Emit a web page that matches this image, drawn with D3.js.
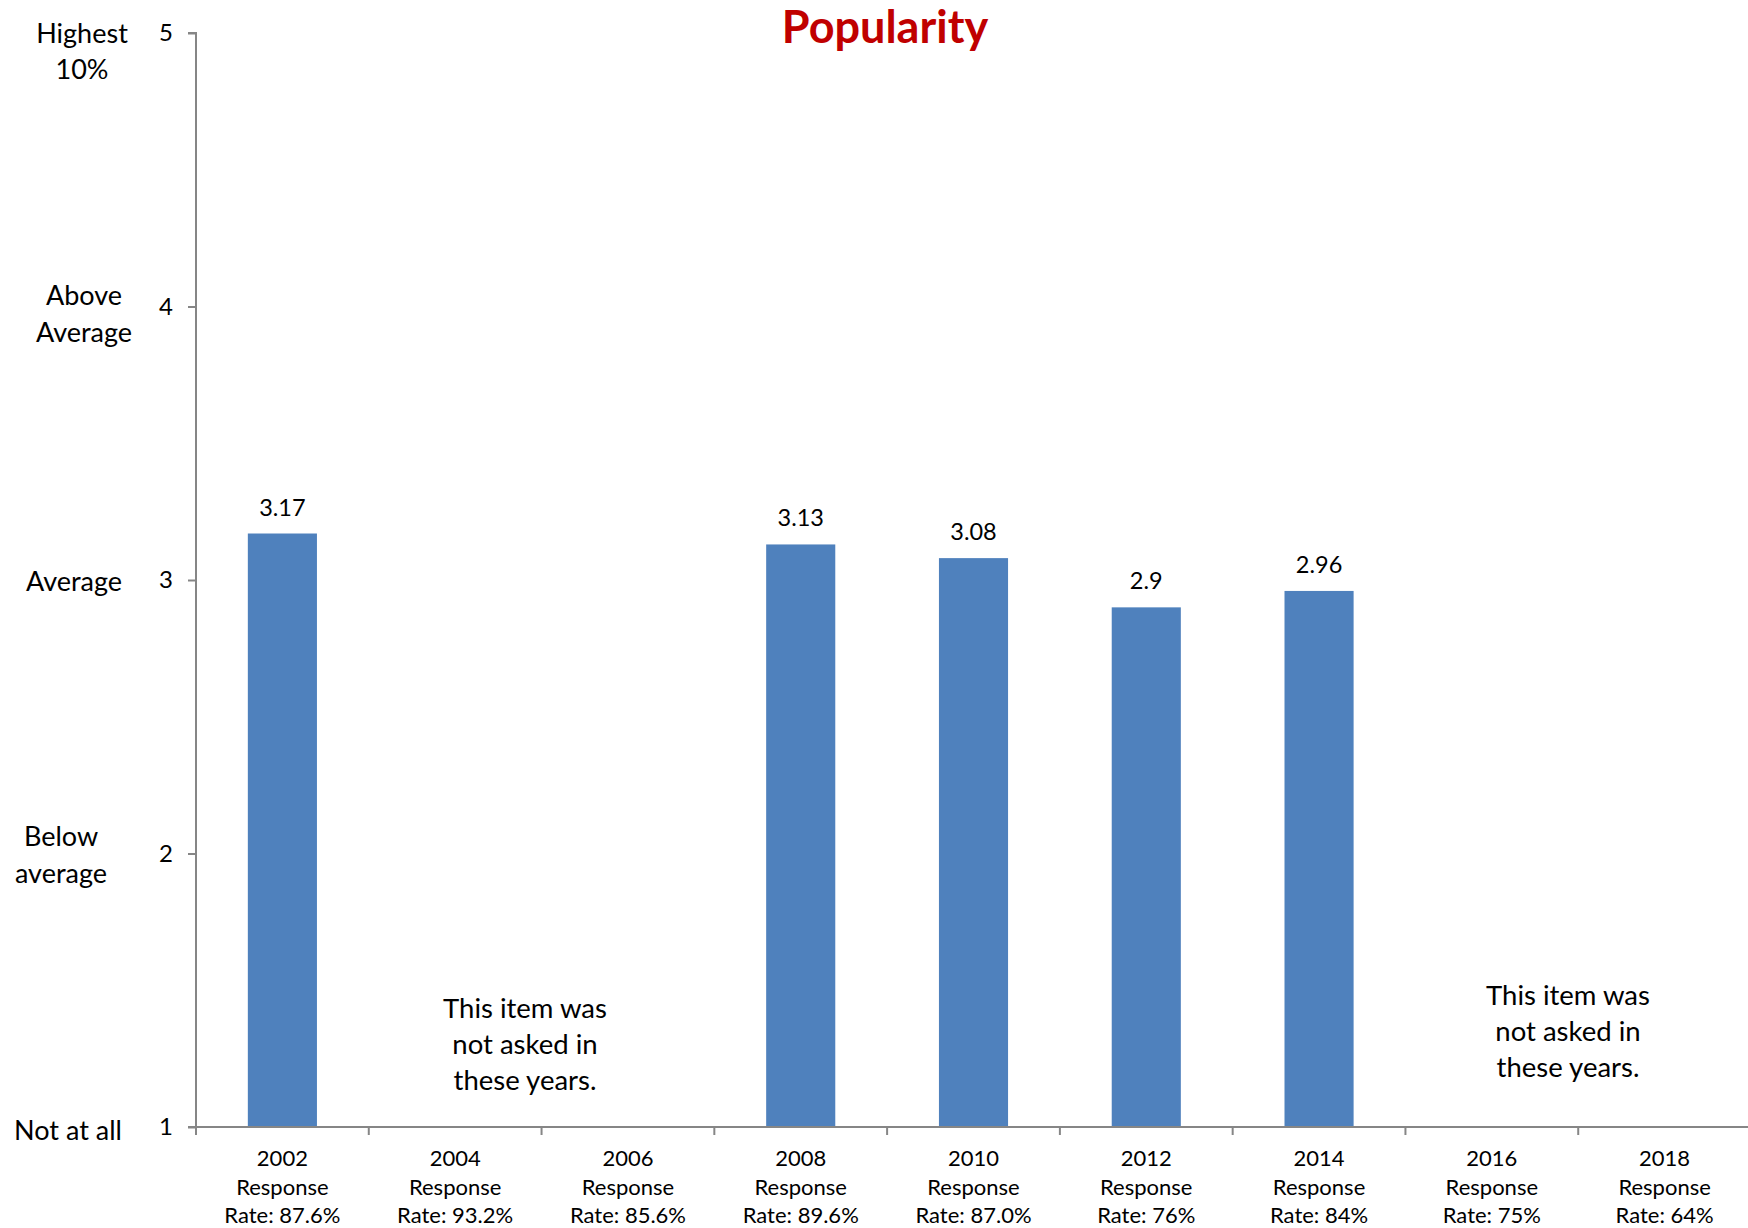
<!DOCTYPE html>
<html><head><meta charset="utf-8">
<script src="https://cdn.jsdelivr.net/npm/d3@7"></script>
<style>
html,body{margin:0;padding:0;background:#fff;}
svg{display:block;font-family:Lato,"Open Sans",sans-serif;}
</style></head>
<body>
<svg id="chart" width="1748" height="1228"></svg>
<script>
// ---- data ----
const years = ["2002","2004","2006","2008","2010","2012","2014","2016","2018"];
const responseRates = ["87.6%","93.2%","85.6%","89.6%","87.0%","76%","84%","75%","64%"];
const values = [3.17, null, null, 3.13, 3.08, 2.9, 2.96, null, null];
const valueLabels = ["3.17", "", "", "3.13", "3.08", "2.9", "2.96", "", ""];
const yTicks = [1, 2, 3, 4, 5];
const scaleLabels = [
  ["Not at all"],
  ["Below", "average"],
  ["Average"],
  ["Above", "Average"],
  ["Highest", "10%"]
];
const noteLines = ["This item was", "not asked in", "these years."];
const title = "Popularity";

(function () {
// ---- layout ----
const svg = d3.select("#chart");
const mLeft = 196, mRight = 1751, mTop = 33, mBottom = 1127;
const x = d3.scaleBand().domain(years).range([mLeft, mRight]).paddingInner(0).paddingOuter(0);
const y = d3.scaleLinear().domain([1, 5]).range([mBottom, mTop]);
const barW = x.bandwidth() * 0.4;
const axisColor = "#868686";
const barColor = "#4F81BD";

// title
svg.append("text").attr("x", 885).attr("y", 43).attr("text-anchor", "middle")
  .attr("font-size", 45).attr("font-weight", "bold").attr("fill", "#C00000").text(title);

// bars
const data = years.map((yr, i) => ({yr, v: values[i], label: valueLabels[i]})).filter(d => d.v != null);
svg.append("g").selectAll("rect").data(data).join("rect")
  .attr("x", d => x(d.yr) + (x.bandwidth() - barW) / 2)
  .attr("y", d => y(d.v))
  .attr("width", barW)
  .attr("height", d => y(1) - y(d.v))
  .attr("fill", barColor);

svg.append("g").selectAll("text").data(data).join("text")
  .attr("x", d => x(d.yr) + x.bandwidth() / 2)
  .attr("y", d => y(d.v) - 18)
  .attr("text-anchor", "middle").attr("font-size", 23.5).attr("fill", "#000")
  .text(d => d.label);

// y axis
const yAxis = svg.append("g").attr("transform", `translate(${mLeft},0)`)
  .call(d3.axisLeft(y).tickValues(yTicks).tickFormat(d3.format("d")).tickSize(8).tickPadding(15));
yAxis.select(".domain").attr("stroke", axisColor).attr("stroke-width", 2).attr("d", `M-8,${mTop}H0V${mBottom}`);
yAxis.selectAll(".tick line").attr("stroke", axisColor).attr("stroke-width", 2);
yAxis.selectAll(".tick text").attr("font-size", 24).attr("fill", "#000").attr("font-family", "Lato");

// x axis
const xAxisG = svg.append("g");
xAxisG.append("line").attr("x1", mLeft - 8).attr("x2", mRight).attr("y1", mBottom).attr("y2", mBottom)
  .attr("stroke", axisColor).attr("stroke-width", 2);
const boundaries = years.map(d => x(d));
xAxisG.selectAll("line.tk").data(boundaries).join("line").attr("class", "tk")
  .attr("x1", d => d).attr("x2", d => d).attr("y1", mBottom).attr("y2", mBottom + 8)
  .attr("stroke", axisColor).attr("stroke-width", 2);
const xl = xAxisG.selectAll("text").data(years).join("text")
  .attr("text-anchor", "middle").attr("font-size", 22).attr("fill", "#000");
xl.each(function(d, i) {
  const t = d3.select(this);
  const cx = x(d) + x.bandwidth() / 2;
  [d, "Response", "Rate: " + responseRates[i]].forEach((s, k) => {
    t.append("tspan").attr("x", cx).attr("y", 1166 + k * 28.5).text(s);
  });
});

// scale category labels (left)
const labelLayout = [
  {cx: 68, dy: 3},
  {cx: 61, dy: -17},
  {cx: 74, dy: 1},
  {cx: 84, dy: -11},
  {cx: 82, dy: 0}
];
scaleLabels.forEach((lines, i) => {
  const t = svg.append("text").attr("text-anchor", "middle").attr("font-size", 27).attr("fill", "#000");
  lines.forEach((s, k) => {
    t.append("tspan").attr("x", labelLayout[i].cx)
      .attr("y", y(yTicks[i]) + labelLayout[i].dy + k * 36.5)
      .attr("dy", "0.36em").text(s);
  });
});

// notes for years not asked
const notes = [
  {cx: 525, cy: 1008},
  {cx: 1568, cy: 995}
];
notes.forEach(n => {
  const t = svg.append("text").attr("text-anchor", "middle").attr("font-size", 27.5).attr("fill", "#000");
  noteLines.forEach((s, k) => {
    t.append("tspan").attr("x", n.cx).attr("y", n.cy + k * 36).attr("dy", "0.36em").text(s);
  });
});
})();
</script>
</body></html>
